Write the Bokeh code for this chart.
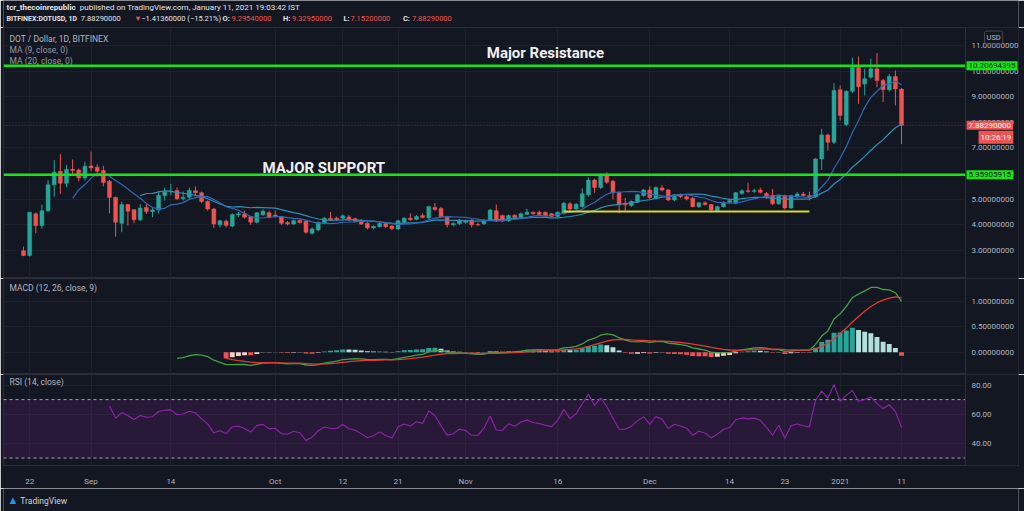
import numpy as np
import pandas as pd
from bokeh.plotting import figure
from bokeh.layouts import column
from bokeh.models import (ColumnDataSource, Range1d, FixedTicker, PrintfTickFormatter,
                          Span, Label, BoxAnnotation)
from bokeh.embed import file_html
from bokeh.resources import INLINE

# ---------------- data ----------------
start_date = "2020-08-21"
opens = [2.99, 2.80, 4.43, 3.97, 4.55, 5.56, 6.09, 5.62, 6.17, 6.14,
         5.83, 6.30, 6.25, 6.12, 5.70, 5.07, 4.06, 4.79, 4.59, 4.20,
         4.68, 4.52, 4.58, 5.14, 5.29, 5.34, 5.02, 5.08, 5.33, 5.25,
         4.92, 4.62, 4.00, 4.14, 3.95, 4.38, 4.43, 4.32, 4.10, 4.39,
         4.47, 4.38, 4.32, 4.09, 4.03, 4.17, 4.14, 3.67, 3.80, 4.07,
         4.26, 4.26, 4.26, 4.31, 4.24, 4.17, 4.06, 3.88, 3.93, 4.05,
         3.95, 3.84, 4.10, 4.26, 4.21, 4.36, 4.27, 4.68, 4.64, 4.32,
         4.00, 4.04, 4.10, 4.19, 4.02, 4.04, 4.19, 4.55, 4.36, 4.15,
         4.37, 4.30, 4.41, 4.49, 4.49, 4.49, 4.43, 4.33, 4.45, 4.82,
         4.62, 4.71, 5.17, 5.75, 5.46, 5.92, 5.70, 5.27, 4.84, 4.75,
         4.88, 5.14, 5.36, 5.04, 5.44, 5.36, 4.97, 5.17, 5.10, 5.04,
         4.71, 4.86, 4.79, 4.55, 4.71, 4.88, 4.84, 5.22, 5.33, 5.30,
         5.36, 5.22, 5.14, 4.82, 5.14, 4.66, 5.10, 5.20, 5.14, 5.10,
         6.57, 7.51, 7.22, 9.27, 7.91, 9.21, 10.15, 9.50, 9.76, 10.09,
         9.63, 9.27, 9.79, 9.2954]
highs = [3.15, 4.50, 4.48, 4.79, 5.75, 6.53, 6.77, 6.34, 6.55, 6.20,
         6.46, 6.86, 6.36, 6.30, 5.75, 5.10, 4.90, 4.82, 4.62, 4.80,
         4.80, 4.70, 5.33, 5.45, 5.60, 5.45, 5.30, 5.45, 5.50, 5.30,
         4.95, 4.65, 4.20, 4.20, 4.45, 4.50, 4.55, 4.35, 4.50, 4.60,
         4.55, 4.55, 4.35, 4.15, 4.20, 4.22, 4.18, 3.90, 4.12, 4.30,
         4.50, 4.32, 4.40, 4.38, 4.28, 4.22, 4.10, 3.98, 4.10, 4.08,
         4.00, 4.20, 4.30, 4.45, 4.38, 4.45, 4.75, 4.85, 4.70, 4.35,
         4.10, 4.22, 4.20, 4.22, 4.08, 4.22, 4.62, 4.80, 4.40, 4.40,
         4.42, 4.48, 4.62, 4.52, 4.55, 4.52, 4.46, 4.52, 4.90, 4.88,
         4.85, 5.42, 5.85, 5.80, 6.00, 6.05, 5.75, 5.30, 5.05, 4.95,
         5.20, 5.40, 5.50, 5.50, 5.55, 5.40, 5.20, 5.22, 5.15, 5.08,
         4.90, 4.92, 4.82, 4.75, 4.92, 5.00, 5.28, 5.38, 5.65, 5.40,
         5.45, 5.28, 5.40, 5.18, 5.18, 5.18, 5.28, 5.28, 5.30, 6.60,
         7.75, 7.55, 9.53, 9.44, 9.25, 10.52, 10.57, 10.09, 10.48, 10.70,
         9.70, 9.89, 10.02, 9.3295]
lows = [2.78, 2.76, 3.67, 3.85, 4.50, 5.10, 5.21, 5.47, 5.99, 5.70,
        5.73, 6.09, 5.88, 5.50, 4.45, 3.54, 3.71, 3.97, 4.06, 4.15,
        4.42, 4.30, 4.45, 4.95, 5.15, 4.97, 4.95, 5.00, 5.15, 4.85,
        4.55, 3.88, 3.90, 3.90, 3.90, 4.30, 4.25, 4.00, 4.05, 4.35,
        4.25, 4.28, 4.00, 3.98, 4.00, 4.05, 3.65, 3.62, 3.75, 4.02,
        4.15, 4.15, 4.20, 4.15, 4.10, 4.00, 3.82, 3.83, 3.90, 3.88,
        3.80, 3.80, 4.05, 4.15, 4.18, 4.25, 4.22, 4.55, 4.28, 3.90,
        3.95, 4.00, 4.05, 3.90, 3.95, 4.00, 4.15, 4.12, 4.10, 4.12,
        4.28, 4.25, 4.38, 4.38, 4.38, 4.33, 4.30, 4.30, 4.40, 4.55,
        4.58, 4.68, 5.10, 5.25, 5.40, 5.60, 5.00, 4.44, 4.55, 4.70,
        4.85, 5.10, 5.00, 5.00, 5.30, 4.92, 4.92, 5.05, 4.95, 4.68,
        4.66, 4.75, 4.55, 4.52, 4.68, 4.85, 4.80, 5.18, 5.25, 5.25,
        5.22, 5.02, 4.78, 4.78, 4.60, 4.62, 5.05, 5.10, 4.95, 5.05,
        6.14, 6.90, 7.15, 8.07, 7.85, 9.15, 8.72, 9.05, 9.70, 9.37,
        8.79, 9.20, 8.66, 7.152]
closes = [2.80, 4.49, 3.97, 4.55, 5.56, 6.05, 5.62, 6.16, 6.12, 5.83,
          6.29, 6.22, 6.09, 5.65, 5.07, 4.10, 4.79, 4.53, 4.20, 4.66,
          4.52, 4.58, 5.14, 5.29, 5.32, 5.02, 5.08, 5.34, 5.25, 4.91,
          4.62, 4.03, 4.16, 3.98, 4.40, 4.43, 4.30, 4.10, 4.47, 4.53,
          4.30, 4.33, 4.06, 4.03, 4.16, 4.09, 3.71, 3.84, 4.10, 4.26,
          4.20, 4.20, 4.35, 4.20, 4.15, 4.03, 3.88, 3.94, 4.05, 3.93,
          3.85, 4.16, 4.26, 4.20, 4.33, 4.29, 4.71, 4.60, 4.32, 4.01,
          4.05, 4.19, 4.15, 4.00, 4.00, 4.19, 4.58, 4.16, 4.15, 4.36,
          4.29, 4.43, 4.49, 4.43, 4.40, 4.36, 4.33, 4.49, 4.84, 4.62,
          4.80, 5.21, 5.75, 5.46, 5.92, 5.66, 5.25, 4.78, 4.78, 4.91,
          5.17, 5.36, 5.07, 5.46, 5.36, 4.97, 5.17, 5.10, 5.01, 4.71,
          4.86, 4.79, 4.58, 4.71, 4.88, 4.95, 5.25, 5.33, 5.30, 5.33,
          5.27, 5.07, 4.82, 5.14, 4.66, 5.14, 5.20, 5.14, 5.10, 6.57,
          7.51, 7.22, 9.24, 8.27, 9.21, 10.15, 9.39, 9.70, 10.09, 9.63,
          9.27, 9.79, 9.30, 7.8829]

tick_dates = ["2020-08-22", "2020-09-01", "2020-09-14", "2020-10-01", "2020-10-12",
              "2020-10-21", "2020-11-01", "2020-11-16", "2020-12-01", "2020-12-14",
              "2020-12-23", "2021-01-01", "2021-01-11"]
tick_labels = ["22", "Sep", "14", "Oct", "12", "21", "Nov", "16", "Dec", "14", "23", "2021", "11"]
price_ticks = [3, 4, 5, 6, 7, 8, 9, 10, 11]
macd_ticks = [0.0, 0.5, 1.0]
rsi_ticks = [40, 60, 80]
resistance = 10.20694395
support = 5.95905915
floor_start, floor_end, floor_level = "2020-11-17", "2020-12-27", 4.52
rsi_upper, rsi_lower = 70, 30
countdown = "10:26:19"

# ---------------- derived series ----------------
o = np.array(opens, float); h = np.array(highs, float)
l = np.array(lows, float); c = np.array(closes, float)
n = len(c)
dates = pd.date_range(start_date, periods=n, freq="D")
idx = np.arange(n)


def day_index(d):
    return int((pd.Timestamp(d) - dates[0]).days)


tick_idx = [day_index(d) for d in tick_dates]


def ema(vals, length):
    vals = np.asarray(vals, float)
    out = np.full(len(vals), np.nan)
    valid = np.where(~np.isnan(vals))[0]
    s = valid[0] + length - 1
    out[s] = vals[valid[0]:s + 1].mean()
    a = 2.0 / (length + 1)
    for i in range(s + 1, len(vals)):
        out[i] = a * vals[i] + (1 - a) * out[i - 1]
    return out


def rsi_calc(vals, length=14):
    d = np.diff(vals)
    g = np.maximum(d, 0); ls = np.maximum(-d, 0)
    out = np.full(len(vals), np.nan)
    ag = g[:length].mean(); al = ls[:length].mean()
    out[length] = 100 - 100 / (1 + ag / al)
    for i in range(length + 1, len(vals)):
        ag = (ag * (length - 1) + g[i - 1]) / length
        al = (al * (length - 1) + ls[i - 1]) / length
        out[i] = 100 - 100 / (1 + ag / al) if al > 0 else 100
    return out


ma9 = pd.Series(c).rolling(9).mean().to_numpy()
ma20 = pd.Series(c).rolling(20).mean().to_numpy()
macd = ema(c, 12) - ema(c, 26)
signal = ema(macd, 9)
hist = macd - signal
rsi = rsi_calc(c, 14)

UP, DN = "#26a69a", "#ef5350"
hist_colors = []
for i in range(n):
    if np.isnan(hist[i]):
        hist_colors.append("#00000000")
        continue
    prev = hist[i - 1] if i > 0 and not np.isnan(hist[i - 1]) else 0.0
    if hist[i] >= 0:
        hist_colors.append("#26a69a" if hist[i] > prev else "#b2dfdb")
    else:
        hist_colors.append("#ffcdd2" if hist[i] > prev else "#ef5350")

# ---------------- styling ----------------
W = 1024
BG = "#131722"
GRID = "#1d212c"
LINE = "#2a2e39"
TXT = "#b2b5be"
FONT = "Roboto"
xr = Range1d(-3.26, 162.05)      # frame spans the price-scale column too
AXIS_X = 153.42                  # position of the price-scale edge


def pane(height, y0, y1, yticks, fmt, bottom_axis=False):
    p = figure(width=W, height=height, x_range=xr, y_range=Range1d(y0, y1),
               output_backend="svg", toolbar_location=None, title_location=None,
               x_axis_location="below" if bottom_axis else None, y_axis_location="right",
               min_border=0, min_border_left=3, min_border_right=6,
               min_border_bottom=19 if bottom_axis else 0)
    p.background_fill_color = BG
    p.border_fill_color = BG
    p.outline_line_color = LINE
    p.xgrid.ticker = FixedTicker(ticks=tick_idx)
    p.xgrid.grid_line_color = GRID
    p.ygrid.grid_line_color = GRID
    p.ygrid.ticker = FixedTicker(ticks=yticks)
    ya = p.yaxis[0]
    ya.ticker = FixedTicker(ticks=yticks)
    ya.formatter = PrintfTickFormatter(format=fmt)
    ya.axis_line_color = None
    ya.major_tick_line_color = None
    ya.minor_tick_line_color = None
    ya.major_tick_out = 0
    ya.major_tick_in = 0
    ya.major_label_text_color = TXT
    ya.major_label_text_font = FONT
    ya.major_label_text_font_size = "8px"
    ya.major_label_standoff = -47
    # price-scale column: hide the grid behind the labels, draw its edge line
    p.add_layout(BoxAnnotation(left=AXIS_X, right=xr.end, fill_color=BG, fill_alpha=1,
                               line_color=None, level="underlay"))
    p.add_layout(Span(location=AXIS_X, dimension="height", line_color=LINE, line_width=1))
    return p


def corner_label(p, text, dy, size="8.5px", color=TXT):
    p.add_layout(Label(x=xr.start, y=p.y_range.end, x_offset=6, y_offset=-dy, text=text,
                       text_color=color, text_font=FONT, text_font_size=size,
                       text_baseline="middle"))


def hline(p, level, **kw):
    p.segment(x0=[xr.start], y0=[level], x1=[AXIS_X], y1=[level], **kw)


def badge(p, y, text, fill, tcol, dx=1, dy=0):
    p.add_layout(Label(x=AXIS_X, y=y, x_offset=dx, y_offset=dy, text=text, text_font=FONT,
                       text_font_size="8px", text_color=tcol, text_baseline="middle",
                       background_fill_color=fill, padding=2))


def text_fig(height):
    f = figure(width=W, height=height, x_range=Range1d(0, W), y_range=Range1d(0, height),
               output_backend="svg", toolbar_location=None, title_location=None,
               x_axis_location=None, y_axis_location=None, min_border=0)
    f.background_fill_color = BG
    f.border_fill_color = BG
    f.outline_line_color = None
    f.grid.visible = False
    return f

# ---------------- header ----------------
hdr = text_fig(27)
WHITE = "#e0e3eb"
header_line1 = [("tcr_thecoinrepublic", 3, "bold", WHITE, "8px"),
                ("published on TradingView.com, January 11, 2021 19:03:42 IST", 77, "normal", WHITE, "8px")]
header_line2 = [("BITFINEX:DOTUSD, 1D", 3, "bold", WHITE, "7px"),
                ("7.88290000", 78, "normal", WHITE, "7.5px"),
                ("▼", 132, "normal", DN, "7.5px"),
                ("−1.41360000 (−15.21%)", 139, "normal", WHITE, "7.5px"),
                ("O:", 221, "bold", WHITE, "7.5px"), ("9.29540000", 230, "normal", DN, "7.5px"),
                ("H:", 282, "bold", WHITE, "7.5px"), ("9.32950000", 291, "normal", DN, "7.5px"),
                ("L:", 343, "bold", WHITE, "7.5px"), ("7.15200000", 350, "normal", DN, "7.5px"),
                ("C:", 403, "bold", WHITE, "7.5px"), ("7.88290000", 412, "normal", DN, "7.5px")]
for txt, x, wt, col, fs in header_line1:
    hdr.add_layout(Label(x=x, y=20, text=txt, text_font=FONT, text_font_size=fs,
                         text_font_style=wt, text_color=col, text_baseline="middle"))
for txt, x, wt, col, fs in header_line2:
    hdr.add_layout(Label(x=x, y=9, text=txt, text_font=FONT, text_font_size=fs,
                         text_font_style=wt, text_color=col, text_baseline="middle"))

# ---------------- main price pane ----------------
main = pane(251, 1.906, 11.70, price_ticks, "%.8f")
csrc = ColumnDataSource(dict(x=idx, o=o, h=h, l=l, c=c,
                             top=np.maximum(o, c), bot=np.minimum(o, c),
                             color=np.where(c >= o, UP, DN)))
hline(main, c[-1], line_color=DN, line_alpha=0.55, line_width=1, line_dash="1 2")
main.segment(x0="x", y0="l", x1="x", y1="h", line_color="color", line_width=1, source=csrc)
main.vbar(x="x", width=0.64, top="top", bottom="bot", fill_color="color",
          line_color="color", line_width=0.5, source=csrc)
main.line(idx, ma20, line_color="#2a90b8", line_width=1.2)
main.line(idx, ma9, line_color="#2f68b4", line_width=1.2)
hline(main, resistance, line_color="#14e614", line_width=2.5)
hline(main, support, line_color="#14e614", line_width=2.5)
main.segment(x0=[day_index(floor_start)], y0=[floor_level], x1=[day_index(floor_end)],
             y1=[floor_level], line_color="#d8d82a", line_width=2)
main.add_layout(Label(x=85, y=10.69, text="Major Resistance", text_font=FONT,
                      text_font_size="15px", text_font_style="bold", text_color="#f0f0f0",
                      text_align="center", text_baseline="middle"))
main.add_layout(Label(x=48.9, y=6.20, text="MAJOR SUPPORT", text_font=FONT,
                      text_font_size="15px", text_font_style="bold", text_color="#f0f0f0",
                      text_align="center", text_baseline="middle"))
corner_label(main, "DOT / Dollar, 1D, BITFINEX", 11)
corner_label(main, "MA (9, close, 0)", 22, color="#9598a1")
corner_label(main, "MA (20, close, 0)", 33, color="#9598a1")
badge(main, resistance, f"{resistance:.8f}", "#14e614", "#131722")
badge(main, support, f"{support:.8f}", "#14e614", "#131722")
badge(main, c[-1], f"{c[-1]:.8f}", DN, "#ffffff")
badge(main, c[-1], countdown, DN, "#ffffff", dx=13, dy=-12)
main.add_layout(Label(x=AXIS_X, y=11.70, x_offset=19, y_offset=-10, text="USD",
                      text_font=FONT, text_font_size="7.5px", text_color=TXT,
                      text_baseline="middle", border_line_color="#434651",
                      border_radius=2, padding=2))

# ---------------- MACD pane ----------------
mp = pane(96, -0.44, 1.455, macd_ticks, "%.8f")
msrc = ColumnDataSource(dict(x=idx, hist=np.nan_to_num(hist), color=hist_colors))
mp.vbar(x="x", width=0.8, top="hist", bottom=0, fill_color="color", line_color=None, source=msrc)
mp.line(idx, macd, line_color="#43a047", line_width=1.3)
mp.line(idx, signal, line_color="#e53935", line_width=1.3)
corner_label(mp, "MACD (12, 26, close, 9)", 9)

# ---------------- RSI pane ----------------
rp = pane(114, 24.9, 87.2, rsi_ticks, "%.2f", bottom_axis=True)
rp.add_layout(BoxAnnotation(bottom=rsi_lower, top=rsi_upper, left=xr.start, right=AXIS_X,
                            fill_color="#9c27b0", fill_alpha=0.16, line_color=None,
                            level="underlay"))
for lev in (rsi_upper, rsi_lower):
    hline(rp, lev, line_color="#a3a6af", line_width=1, line_dash="3 3")
rp.line(idx, rsi, line_color="#8e24aa", line_width=1.1)
corner_label(rp, "RSI (14, close)", 7)
xa = rp.xaxis[0]
xa.ticker = FixedTicker(ticks=tick_idx)
xa.major_label_overrides = {t: lab for t, lab in zip(tick_idx, tick_labels)}
xa.axis_line_color = None
xa.major_tick_line_color = None
xa.minor_tick_line_color = None
xa.major_label_text_color = TXT
xa.major_label_text_font = FONT
xa.major_label_text_font_size = "8px"
xa.major_label_standoff = 5

# ---------------- footer ----------------
ftr = text_fig(23)
ftr.add_layout(Label(x=4, y=11, text="▲", text_font=FONT, text_font_size="11px",
                     text_color="#2196f3", text_baseline="middle"))
ftr.add_layout(Label(x=17, y=11, text="TradingView", text_font=FONT, text_font_size="8.5px",
                     text_color="#d1d4dc", text_baseline="middle"))

layout = column(hdr, main, mp, rp, ftr, spacing=0)
html = file_html(layout, INLINE)
html = html.replace("<body>", '<body style="background:#131722;">', 1)
open("out.html", "w").write(html)
